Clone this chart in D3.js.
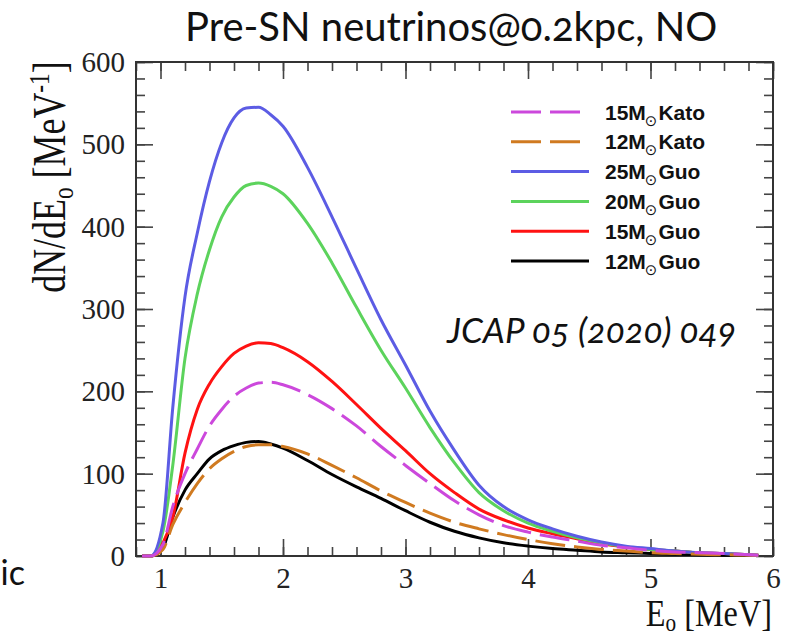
<!DOCTYPE html>
<html>
<head>
<meta charset="utf-8">
<script src="https://cdn.jsdelivr.net/npm/d3@7"></script>
<style>
body { margin: 0; background: #fff; }
svg { display: block; }
.axis text { font-family: "Liberation Serif", "Times New Roman", serif; font-size: 29px; fill: #222; }
.axis line { stroke: #444; stroke-width: 1.6; }
.axis path { display: none; }
</style>
</head>
<body>
<script>
const width = 792,
    height = 637;

// energy grid (MeV)
const energy = [0.85, 0.92, 1.02, 1.1, 1.2, 1.3, 1.4, 1.5, 1.6, 1.7, 1.8, 1.9, 2.0, 2.2, 2.4, 2.6,
    2.8, 3.0, 3.2, 3.4, 3.6, 3.8, 4.0, 4.2, 4.4, 4.6, 4.8, 5.0, 5.2, 5.4, 5.6, 5.88];

const guo25 = [0, 0, 40, 180, 315, 392, 455, 502, 532, 544, 545, 536, 522, 472, 412, 349,
    287, 232, 176, 128, 86, 60, 44, 33, 24, 17, 12, 9, 6, 4, 3, 1];
const guo20 = [0, 0, 30, 110, 240, 318, 372, 412, 436, 450, 453, 449, 440, 404, 356, 302,
    250, 204, 156, 113, 77, 55, 40, 30, 22, 16, 11, 8, 6, 4, 3, 1];
const guo15 = [0, 0, 16, 47, 125, 178, 209, 230, 246, 255, 259, 258, 253, 236, 212, 184,
    155, 128, 100, 77, 57, 44, 34, 27, 21, 15, 11, 8, 6, 4, 3, 1];
const kato15 = [0, 0, 14, 60, 100, 130, 158, 178, 194, 204, 210, 211, 208, 196, 179, 158,
    133, 110, 88, 67, 50, 37, 29, 23, 18, 13, 10, 7, 5, 4, 3, 1];
const guo12 = [0, 0, 10, 47, 80, 100, 118, 128, 134, 138, 139, 136, 131, 116, 99, 84,
    70, 55, 41, 30, 22, 16, 12, 9, 7, 5, 4, 3, 2, 1.5, 1, 0.5];
const kato12 = [0, 0, 8, 38, 65, 88, 106, 118, 127, 133, 135, 135, 133, 124, 110, 95,
    79, 65, 52, 41, 33, 26, 20, 15, 11, 8, 6, 4, 3, 2, 1.5, 1];

const xTicks = [1, 2, 3, 4, 5, 6];
const yTicks = [0, 100, 200, 300, 400, 500, 600];

const legendMass = ['15M', '12M', '25M', '20M', '15M', '12M'];
const legendModel = ['Kato', 'Kato', 'Guo', 'Guo', 'Guo', 'Guo'];

const series = [
    {values: kato15, color: '#cc48dc', dash: '30,9'},
    {values: kato12, color: '#d07a20', dash: '30,9'},
    {values: guo25, color: '#5c5ce4', dash: null},
    {values: guo20, color: '#5cd35c', dash: null},
    {values: guo15, color: '#ff1212', dash: null},
    {values: guo12, color: '#000000', dash: null}
];

const x = d3.scaleLinear().domain([0.8, 6]).range([136, 773]);
const y = d3.scaleLinear().domain([0, 600]).range([556, 62]);

const svg = d3.select('body').append('svg')
    .attr('width', width)
    .attr('height', height)
    ;

function minorTicks(scale, step) {
    const [a, b] = scale.domain();
    return d3.range(Math.ceil(a / step) * step, b + 1e-6, step)
        .map(v => +v.toFixed(3));
}

function renderAxes() {
    const xMinor = minorTicks(x, 0.2);
    const yMinor = minorTicks(y, 20);
    const axes = [
        [d3.axisBottom(x), 'translate(0,' + y(0) + ')', true, xTicks, xMinor],
        [d3.axisTop(x), 'translate(0,' + y(600) + ')', false, xTicks, xMinor],
        [d3.axisLeft(y), 'translate(' + x(0.8) + ',0)', true, yTicks, yMinor],
        [d3.axisRight(y), 'translate(' + x(6) + ',0)', false, yTicks, yMinor]
    ];
    axes.forEach(([axis, tr, labels, major, minor], k) => {
        svg.append('g')
            .attr('class', 'axis')
            .attr('transform', tr)
            .call(axis.tickValues(minor).tickSize(-9).tickFormat(''));
        const g = svg.append('g')
            .attr('class', 'axis')
            .attr('transform', tr)
            .call(axis.tickValues(major).tickSize(-17).tickPadding(labels ? 4 : 0)
                .tickFormat(labels ? d3.format('d') : ''));
        if (k === 0) g.selectAll('text').attr('dy', '0.95em');
        if (k === 2) g.selectAll('text').attr('x', -11).attr('dy', '0.33em');
    });

    svg.append('rect')
        .attr('x', x(0.8))
        .attr('y', y(600))
        .attr('width', x(6) - x(0.8))
        .attr('height', y(0) - y(600))
        .attr('fill', 'none')
        .attr('stroke', '#333')
        .attr('stroke-width', 2);
}

function renderCurves() {
    const line = d3.line()
        .x((d, i) => x(energy[i]))
        .y(d => y(d))
        .curve(d3.curveMonotoneX);

    svg.append('g').selectAll('path.curve')
        .data(series.slice().reverse())
        .enter()
        .append('path')
        .attr('class', 'curve')
        .attr('d', d => line(d.values))
        .attr('fill', 'none')
        .attr('stroke', d => d.color)
        .attr('stroke-width', 3)
        .attr('stroke-dasharray', d => d.dash)
        ;
}

function renderLegend() {
    const g = svg.append('g').selectAll('g')
        .data(series)
        .enter()
        .append('g')
        .attr('transform', (d, i) => 'translate(0,' + (112 + i * 29.8) + ')');

    g.append('line')
        .attr('x1', 511).attr('x2', 589)
        .attr('stroke', d => d.color)
        .attr('stroke-width', 3)
        .attr('stroke-dasharray', d => d.dash);

    const t = g.append('text')
        .attr('x', 605)
        .attr('y', 7.5)
        .style('font-family', '"Liberation Sans", Arial, sans-serif')
        .style('font-weight', 'bold')
        .style('font-size', '21px')
        .attr('fill', '#111');
    t.append('tspan').text((d, i) => legendMass[i]);
    t.append('tspan')
        .attr('dy', 6)
        .attr('dx', -1)
        .style('font-size', '15px')
        .style('font-family', '"DejaVu Sans", sans-serif')
        .style('font-weight', 'normal')
        .text('\u2299');
    t.append('tspan')
        .attr('dy', -6)
        .attr('dx', 1)
        .text((d, i) => legendModel[i]);
}

function renderTexts() {
    svg.append('text')
        .attr('x', 185)
        .attr('y', 41)
        .style('font-family', 'Lato, "Open Sans", sans-serif')
        .style('font-size', '40px')
        .style('font-variant-numeric', 'oldstyle-nums')
        .attr('fill', '#111')
        .text('Pre-SN neutrinos@0.2kpc, NO');

    svg.append('text')
        .attr('x', 447)
        .attr('y', 343)
        .style('font-family', 'Lato, "Open Sans", sans-serif')
        .style('font-style', 'italic')
        .style('font-size', '35px')
        .style('font-variant-numeric', 'oldstyle-nums')
        .attr('fill', '#111')
        .text('JCAP 05 (2020) 049');

    svg.append('text')
        .attr('x', 25)
        .attr('y', 585)
        .attr('text-anchor', 'end')
        .style('font-family', 'Lato, "Open Sans", sans-serif')
        .style('font-size', '34px')
        .attr('fill', '#111')
        .text('ic');

    const serif = '"Liberation Serif", "Times New Roman", serif';

    const yt = svg.append('text')
        .attr('transform', 'translate(65,177) rotate(-90) scale(0.78,1)')
        .attr('text-anchor', 'middle')
        .style('font-family', serif)
        .style('font-size', '46px')
        .attr('fill', '#111');
    yt.append('tspan').text('dN/dE');
    yt.append('tspan').attr('dy', 8).style('font-size', '30px').text('o');
    yt.append('tspan').attr('dy', -8).text(' [MeV');
    yt.append('tspan').attr('dy', -16).style('font-size', '30px').text('-1');
    yt.append('tspan').attr('dy', 16).text(']');

    const xt = svg.append('text')
        .attr('transform', 'translate(772,626) scale(0.85,1)')
        .attr('text-anchor', 'end')
        .style('font-family', serif)
        .style('font-size', '38px')
        .attr('fill', '#111');
    xt.append('tspan').text('E');
    xt.append('tspan').attr('dy', 5).style('font-size', '25px').text('o');
    xt.append('tspan').attr('dy', -5).text(' [MeV]');
}

renderAxes();
renderCurves();
renderLegend();
renderTexts();
</script>
</body>
</html>
